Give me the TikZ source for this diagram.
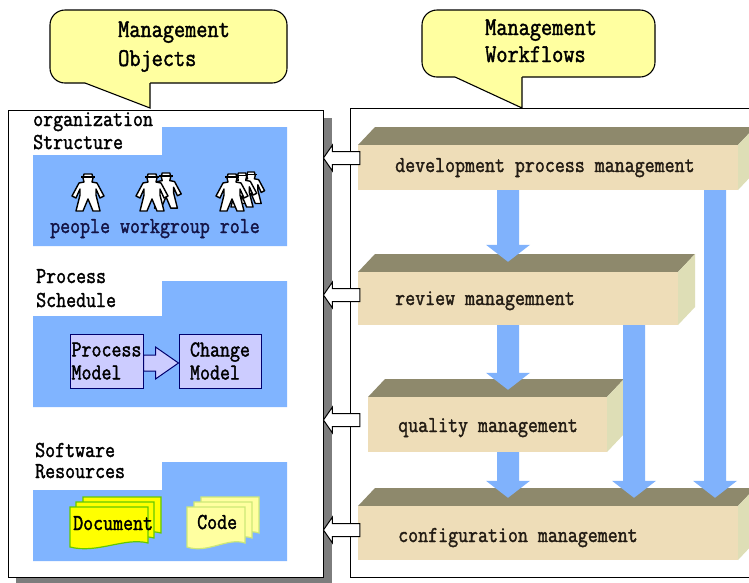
\documentclass[tikz,border=0pt]{standalone}
\usepackage{fontspec}
\newfontfamily\monofam[FakeBold=1.6,FakeStretch=0.85]{Latin Modern Mono}
\usetikzlibrary{calc}

\definecolor{panelblue}{RGB}{128,180,255}
\definecolor{flowblue}{RGB}{128,178,252}
\definecolor{calloutfill}{RGB}{255,255,160}
\definecolor{beamfront}{RGB}{238,221,184}
\definecolor{beamtop}{RGB}{142,137,108}
\definecolor{beamside}{RGB}{222,222,182}
\definecolor{lav}{RGB}{204,204,255}
\definecolor{navy}{RGB}{0,0,110}
\definecolor{docyellow}{RGB}{255,255,0}
\definecolor{docgreen}{RGB}{100,200,0}
\definecolor{codefill}{RGB}{255,255,160}
\definecolor{codeedge}{RGB}{205,232,120}
\definecolor{shadowgray}{RGB}{125,125,125}
\definecolor{inkblue}{RGB}{20,20,70}
\definecolor{inkbrown}{RGB}{35,28,20}

% downward block arrow: shaft start, tip
\newcommand\flowdown[2]{%
  \fill[flowblue] let \p1=(#1), \p2=(#2) in
    (\x1-11pt,\y1) -- (\x1+11pt,\y1) -- (\x1+11pt,\y2+17pt) -- (\x1+22pt,\y2+17pt)
    -- (\x1,\y2) -- (\x1-22pt,\y2+17pt) -- (\x1-11pt,\y2+17pt) -- cycle;}
% hollow block arrow pointing left: tail point, target whose x is the tip
\newcommand\linkleft[2]{%
  \filldraw[linkarrow] let \p1=(#1), \p2=(#2) in
    (\x1,\y1+6.5pt) -- (\x2+9pt,\y1+6.5pt) -- (\x2+9pt,\y1+13pt) -- (\x2,\y1)
    -- (\x2+9pt,\y1-13pt) -- (\x2+9pt,\y1-6.5pt) -- (\x1,\y1-6.5pt) -- cycle;}

\tikzset{
  pics/person/.style={code={
    \filldraw[fill=white, draw=black, line width=1.4pt, line join=round]
      (-4,0) -- (4,0) -- (5,4) -- (4,8) -- (9,9) -- (16,22) -- (12,24) -- (8,15)
      -- (8,21) -- (12,37) -- (5,37) -- (0,25) -- (-5,37) -- (-12,37) -- (-8,21)
      -- (-8,15) -- (-12,24) -- (-16,22) -- (-9,9) -- (-4,8) -- (-5,4) -- cycle;
    \draw[line width=1.4pt] (-7,3) -- (7,3);
  }},
  pics/page/.style={code={
    \path[pic actions] (0,0) -- (#1,0) -- (#1,36)
      .. controls ({#1*0.7},30) and ({#1*0.35},47) .. (0,40) -- cycle;
  }}
}

\begin{document}
\begin{tikzpicture}[x=1pt,y=-1pt,
  txt/.style={font=\monofam\fontsize{22.8}{23}\selectfont, inner sep=0pt, anchor=base west},
  bigtxt/.style={font=\monofam\fontsize{25.5}{26}\selectfont, inner sep=0pt, anchor=base west},
  callout/.style={fill=calloutfill, draw=black, line width=1.1pt},
  panelframe/.style={draw=black, line width=0.9pt, fill=white, inner sep=0pt},
  section/.style={fill=panelblue},
  beamface/.style={fill=beamfront, draw=none, inner sep=0pt},
  beamtopface/.style={fill=beamtop},
  beamsideface/.style={fill=beamside},
  modelbox/.style={fill=lav, draw=navy, line width=1pt, inner sep=0pt, align=left,
    font=\monofam\fontsize{22.8}{23}\selectfont},
  modelarrow/.style={fill=lav, draw=navy, line width=1pt, line join=miter},
  linkarrow/.style={fill=white, draw=black, line width=1pt, line join=miter},
]
\useasboundingbox (0,0) rectangle (749,582);
\clip (0,0) rectangle (749,582);
\fill[white] (0,0) rectangle (749,582);

% ---------- callouts ----------
\draw[callout, rounded corners=15pt] (50,10) rectangle (287,83);
\fill[calloutfill] (85,83) -- (150,108) -- (150,81) -- (85,81) -- cycle;
\draw[line width=1.1pt] (85,83) -- (150,108) -- (150,83);
\node[bigtxt] (objA) at (118,37) {Management};
\node[bigtxt] (objB) at (118,66) {Objects};

\draw[callout, rounded corners=15pt] (422,10) rectangle (655,77);
\fill[calloutfill] (455,77) -- (522,108) -- (522,75) -- (455,75) -- cycle;
\draw[line width=1.1pt] (455,77) -- (522,108) -- (522,77);
\node[bigtxt] (wfA) at (485,35) {Management};
\node[bigtxt] (wfB) at (485,62) {Workflows};

% ---------- left panel: management objects ----------
\fill[shadowgray] (16,118) rectangle (332,584);
\node[panelframe, minimum width=315pt, minimum height=467pt] (objects) at (165.5,343.5) {};

% organization structure
\fill[section] (33,155) -- (162,155) -- (162,127) -- (287,127) -- (287,246) -- (33,246) -- cycle;
\node[txt] (orgA) at (33,126) {organization};
\node[txt] (orgB) at (33,149) {Structure};
\pic at (88,174) {person};
\pic[scale=0.95] at (166,173) {person};
\pic at (152,174) {person};
\pic[scale=0.85] at (251,172) {person};
\pic[scale=0.92] at (242,173) {person};
\pic at (232,174) {person};
\node[txt, text=inkblue] (roles) at (50,233) {people workgroup role};

% process schedule
\fill[section] (33,316) -- (162,316) -- (162,281) -- (287,281) -- (287,407) -- (33,407) -- cycle;
\node[txt] (procA) at (36,283) {Process};
\node[txt] (procB) at (36,307) {Schedule};
\node[modelbox, minimum width=73pt, minimum height=54pt] (pm) at (106.5,361) {Process\\Model};
\node[modelbox, minimum width=82pt, minimum height=54pt] (cm) at (220,361) {Change\\Model};
\filldraw[modelarrow] let \p1=(pm.east), \p2=(cm.west) in
  (\x1,\y1+6pt) -- (\x1+12pt,\y1+6pt) -- (\x1+12pt,\y1+14pt) -- (\x2,\y1-2pt)
  -- (\x1+12pt,\y1-18pt) -- (\x1+12pt,\y1-10pt) -- (\x1,\y1-10pt) -- cycle;

% software resources
\fill[section] (33,490) -- (162,490) -- (162,462) -- (287,462) -- (287,561) -- (33,561) -- cycle;
\node[txt] (softA) at (35,457) {Software};
\node[txt] (softB) at (35,478) {Resources};
\pic[fill=docyellow, draw=docgreen, line width=1.2pt] at (83,497) {page=78};
\pic[fill=docyellow, draw=docgreen, line width=1.2pt] at (76,502) {page=78};
\pic[fill=docyellow, draw=docgreen, line width=1.2pt] at (70,507) {page=78};
\node[txt] (doctxt) at (73,530) {Document};
\pic[fill=codefill, draw=codeedge, line width=1.2pt] at (201,497) {page=58};
\pic[fill=codefill, draw=codeedge, line width=1.2pt] at (194,502) {page=58};
\pic[fill=codefill, draw=codeedge, line width=1.2pt] at (187,507) {page=58};
\node[txt] (codetxt) at (197,529) {Code};

% ---------- right panel: management workflows ----------
\node[panelframe, minimum width=420pt, minimum height=469pt, anchor=north west] (flows) at (350,108) {};

% development process management
\fill[beamtopface] (358,145) -- (375,127) -- (755,127) -- (738,145) -- cycle;
\fill[beamsideface] (738,145) -- (755,127) -- (755,172) -- (738,190) -- cycle;
\node[beamface, minimum width=380pt, minimum height=45pt] (dev) at (548,167.5) {};
\node[txt, text=inkbrown] (devtxt) at (395,172) {development process management};

% review management
\fill[beamtopface] (358,272) -- (375,254) -- (695,254) -- (678,272) -- cycle;
\fill[beamsideface] (678,272) -- (695,254) -- (695,307) -- (678,325) -- cycle;
\node[beamface, minimum width=320pt, minimum height=53pt] (review) at (518,298.5) {};
\node[txt, text=inkbrown] (revtxt) at (395,305) {review managemnent};

% quality management
\fill[beamtopface] (368,397) -- (385,379) -- (624,379) -- (607,397) -- cycle;
\fill[beamsideface] (607,397) -- (624,379) -- (624,434) -- (607,452) -- cycle;
\node[beamface, minimum width=239pt, minimum height=55pt] (quality) at (487.5,424.5) {};
\node[txt, text=inkbrown] (qualtxt) at (398,432) {quality management};

% configuration management
\fill[beamtopface] (358,506) -- (375,488) -- (755,488) -- (738,506) -- cycle;
\fill[beamsideface] (738,506) -- (755,488) -- (755,542) -- (738,560) -- cycle;
\node[beamface, minimum width=380pt, minimum height=54pt] (config) at (548,533) {};
\node[txt, text=inkbrown] (conftxt) at (398,542) {configuration management};

% workflow arrows
\coordinate (tipA) at ($(508,0 |- review.north)+(0,-10)$);
\coordinate (tipB) at ($(508,0 |- quality.north)+(0,-7)$);
\coordinate (tipC) at ($(508,0 |- config.north)+(0,-8)$);
\coordinate (tipD) at ($(634,0 |- config.north)+(0,-8)$);
\coordinate (tipE) at ($(715,0 |- config.north)+(0,-8)$);
\flowdown{508,0 |- dev.south}{tipA}
\flowdown{508,0 |- review.south}{tipB}
\flowdown{508,0 |- quality.south}{tipC}
\flowdown{634,0 |- review.south}{tipD}
\flowdown{715,0 |- dev.south}{tipE}

% links from workflows to managed objects
\linkleft{$(dev.west)+(2,-9.5)$}{objects.east}
\linkleft{$(review.west)+(2,-3.5)$}{objects.east}
\linkleft{$(quality.west)+(-8,-4.5)$}{objects.east}
\linkleft{$(config.west)+(2,-3)$}{objects.east}
\end{tikzpicture}
\end{document}
